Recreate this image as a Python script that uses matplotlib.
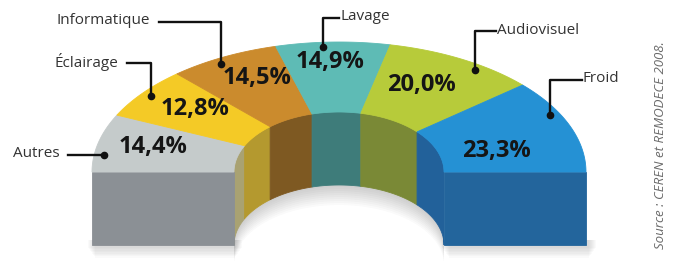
import matplotlib
matplotlib.use('agg')
import matplotlib.pyplot as plt
from matplotlib.patches import Polygon
import numpy as np

# consommation electrique par usage (%)
usages = ["Autres", "Éclairage", "Informatique", "Lavage", "Audiovisuel", "Froid"]
parts = [14.4, 12.8, 14.5, 14.9, 20.0, 23.3]
part_labels = ["14,4%", "12,8%", "14,5%", "14,9%", "20,0%", "23,3%"]
source = "Source : CEREN et REMODECE 2008."

top_colors = ["#c5cbcb", "#f4ca26", "#cb8b2d", "#5ebbb5", "#b7cb3a", "#2591d4"]
wall_colors = ["#a9a272", "#b4992f", "#7e5922", "#3e7c7a", "#7a8936", "#22619a"]
front_colors = ["#8b9095", None, None, None, None, "#23659c"]

# geometry of the half ring (pixel space)
cx, cy = 339, 172
ro_x, ro_y = 247, 130
ri_x, ri_y = 105, 60
depth = 73

# label layout: text anchor (x, y), alignment, percent label nudges
text_pos = [(60, 155, "right"), (118, 63, "right"), (150, 22, "right"),
            (340, 18, "left"), (497, 31, "left"), (583, 80, "left")]
pct_nudge = [(-14, -4), (-4, -5), (0, -10), (-5, -15), (-6, -5), (-7, 13)]
dot_shift = [5, 0, 2, 2.5, -5, 6]


def ell(rx, ry, t, dy=0):
    return np.column_stack([cx + rx * np.cos(t), cy + dy - ry * np.sin(t)])


fig = plt.figure(figsize=(6.81, 2.61), dpi=100)
ax = fig.add_axes([0, 0, 1, 1])
ax.set_xlim(0, 681)
ax.set_ylim(261, 0)
ax.axis("off")

# soft drop shadow under the two front blocks
for sgn in (-1, 1):
    for k in range(8):
        xa, xb = cx + sgn * (ri_x - 2), cx + sgn * (ro_x + 4)
        x0, x1 = min(xa, xb) + k, max(xa, xb) - k + 6
        ax.add_patch(Polygon([(x0, cy + depth - 5), (x1, cy + depth - 5),
                              (x1, cy + depth + 3 + k * 1.4),
                              (x0, cy + depth + 3 + k * 1.4)],
                             closed=True, fc="#404040", ec="none", alpha=0.025))

# shadow on the floor of the hole
t_in = np.linspace(0, np.pi, 120)
for k in range(10):
    low = ell(ri_x, ri_y, t_in, depth + 2 + k * 2.0)
    up = ell(ri_x, ri_y, t_in[::-1], depth - 5)
    ax.add_patch(Polygon(np.vstack([low, up]), closed=True, fc="#303030",
                         ec="none", alpha=0.022))

# angles for each slice, from the left (180 deg) to the right (0 deg)
total = sum(parts)
cum = np.concatenate([[0], np.cumsum(parts)]) / total
angles = np.pi * (1 - cum)

# inner back wall
for i in range(len(parts)):
    t = np.linspace(angles[i], angles[i + 1], 60)
    upper = ell(ri_x, ri_y, t)
    lower = ell(ri_x, ri_y, t[::-1], depth)
    ax.add_patch(Polygon(np.vstack([upper, lower]), closed=True,
                         fc=wall_colors[i], ec=wall_colors[i], lw=0.6))

# front cut faces at both ends
for i, sgn in ((0, -1), (len(parts) - 1, 1)):
    x0, x1 = cx + sgn * ri_x, cx + sgn * ro_x
    ax.add_patch(Polygon([(x0, cy), (x1, cy), (x1, cy + depth), (x0, cy + depth)],
                         closed=True, fc=front_colors[i], ec=front_colors[i], lw=0.6))

# top faces
for i in range(len(parts)):
    t = np.linspace(angles[i], angles[i + 1], 60)
    outer = ell(ro_x, ro_y, t)
    inner = ell(ri_x, ri_y, t[::-1])
    ax.add_patch(Polygon(np.vstack([outer, inner]), closed=True,
                         fc=top_colors[i], ec=top_colors[i], lw=0.6))

# percentages and leader lines
rm_x, rm_y = (ro_x + ri_x) / 2, (ro_y + ri_y) / 2
for i in range(len(parts)):
    mid = (angles[i] + angles[i + 1]) / 2
    px = cx + rm_x * np.cos(mid) + pct_nudge[i][0]
    py = cy - rm_y * np.sin(mid) + pct_nudge[i][1]
    ax.text(px, py, part_labels[i], fontsize=17, fontweight="bold",
            family="Open Sans", color="#151515", ha="center", va="center")

    dmid = mid + np.radians(dot_shift[i])
    dx = cx + 0.96 * ro_x * np.cos(dmid)
    dy = cy - 0.96 * ro_y * np.sin(dmid)
    tx, ty, ha = text_pos[i]
    if i == 0:
        ax.plot([dx, tx + 8], [dy, dy], color="#111111", lw=1.7)
        ax.text(tx, dy - 1, usages[i], fontsize=11, family="Open Sans",
                color="#333333", ha="right", va="center")
    else:
        if ha == "right":
            ax.plot([tx + 9, dx, dx], [ty, ty, dy], color="#111111", lw=1.7)
        else:
            ax.plot([dx, dx, tx - 1], [dy, ty, ty], color="#111111", lw=1.7)
        ax.text(tx, ty - 1, usages[i], fontsize=11, family="Open Sans",
                color="#333333", ha=ha, va="center")
    ax.plot(dx, dy, "o", color="#111111", ms=4.5)

ax.text(660, 145, source, rotation=90, fontsize=9.5, style="italic",
        family="Open Sans", color="#6a6a6a", ha="center", va="center")

plt.savefig("out.png", dpi=100)
